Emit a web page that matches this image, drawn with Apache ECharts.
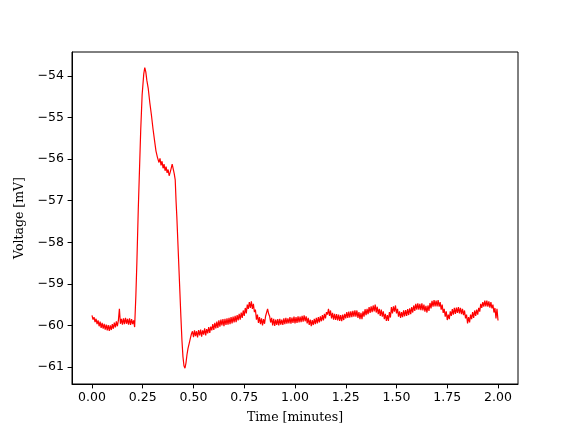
<!DOCTYPE html>
<html>
<head>
<meta charset="utf-8">
<script src="https://cdn.jsdelivr.net/npm/echarts@6/dist/echarts.min.js"></script>
<style>html,body{margin:0;padding:0;background:#fff}#c{width:576px;height:432px}</style>
</head>
<body>
<div id="c"></div>
<script>
// Baseline before the action potential, sampled every 0.005 minute from 0.00 to 0.21
const baseStart = 0.0;
const baseStep = 0.005;
const baseVolt = [-59.76,-59.86,-59.80,-59.92,-59.84,-59.97,-59.88,-60.02,-59.91,-60.06,
  -59.94,-60.08,-59.96,-60.10,-59.98,-60.12,-59.99,-60.13,-60.00,-60.11,
  -59.97,-60.08,-59.93,-60.05,-59.90,-60.02,-59.88,-59.60,-59.96,-59.84,
  -59.98,-59.83,-59.97,-59.82,-59.96,-59.84,-59.98,-59.83,-59.99,-59.85,
  -59.97,-59.88,-60.04];
// Action potential and undershoot
const spikeTime = [0.212,0.216,0.221,0.228,0.240,0.247,0.255,0.260,0.265,0.270,0.277,0.285,0.293,0.300,0.308,0.315,0.322,
  0.33,0.335,0.34,0.345,0.35,0.355,0.36,0.365,0.37,0.375,0.38,0.385,0.39,0.395,0.40,0.405,0.41,
  0.414,0.418,0.423,0.428,0.433,0.438,0.443,0.448,0.453,0.458,0.463,0.468,0.473,0.478,0.485,0.49,0.495];
const spikeVolt = [-60.05,-59.30,-58.50,-57.20,-55.30,-54.45,-53.95,-53.80,-53.90,-54.10,-54.30,-54.65,-54.95,-55.25,-55.55,-55.80,-55.95,
  -56.08,-55.98,-56.15,-56.05,-56.22,-56.12,-56.28,-56.18,-56.33,-56.25,-56.40,-56.32,-56.22,-56.12,-56.15,-56.35,-56.50,
  -57.00,-57.40,-58.00,-58.60,-59.20,-59.80,-60.35,-60.75,-60.97,-61.03,-60.90,-60.70,-60.55,-60.45,-60.30,-60.20,-60.14];
// Recovery and plateau, sampled every 0.005 minute from 0.50 to 2.00
const tailStart = 0.50;
const tailStep = 0.005;
const tailVolt = [
  -60.28,-60.12,-60.26,-60.14,-60.29,-60.11,-60.24,-60.10,-60.27,-60.12,-60.22,-60.07,-60.24,-60.09,-60.19,-60.04,-60.18,-60.03,-60.12,-59.97,
  -60.11,-59.94,-60.07,-59.91,-60.06,-59.88,-60.03,-59.86,-60.00,-59.85,-60.02,-59.84,-59.99,-59.83,-59.98,-59.82,-59.97,-59.80,-59.95,-59.79,
  -59.93,-59.77,-59.92,-59.75,-59.88,-59.72,-59.86,-59.69,-59.82,-59.64,-59.77,-59.58,-59.71,-59.50,-59.60,-59.44,-59.58,-59.42,-59.60,-59.48,
  -59.68,-59.62,-59.86,-59.74,-59.94,-59.80,-59.97,-59.83,-60.00,-59.85,-59.96,-59.78,-59.82,-59.60,-59.72,-59.78,-59.93,-59.82,-60.00,-59.84,
  -60.01,-59.86,-59.99,-59.85,-60.00,-59.84,-59.98,-59.86,-59.99,-59.83,-59.97,-59.82,-59.96,-59.83,-59.95,-59.80,-59.96,-59.81,-59.94,-59.79,
  -59.95,-59.80,-59.94,-59.78,-59.93,-59.79,-59.92,-59.77,-59.91,-59.76,-59.90,-59.78,-59.95,-59.82,-59.99,-59.86,-60.02,-59.87,-59.99,-59.84,
  -59.97,-59.82,-59.95,-59.80,-59.93,-59.78,-59.90,-59.75,-59.88,-59.72,-59.83,-59.68,-59.74,-59.60,-59.77,-59.64,-59.83,-59.70,-59.86,-59.72,
  -59.87,-59.73,-59.88,-59.74,-59.89,-59.75,-59.90,-59.74,-59.87,-59.72,-59.83,-59.68,-59.82,-59.67,-59.81,-59.66,-59.80,-59.65,-59.79,-59.64,
  -59.79,-59.64,-59.82,-59.68,-59.85,-59.70,-59.85,-59.66,-59.79,-59.61,-59.75,-59.60,-59.73,-59.56,-59.70,-59.54,-59.68,-59.52,-59.66,-59.50,
  -59.69,-59.55,-59.73,-59.60,-59.77,-59.62,-59.79,-59.66,-59.85,-59.72,-59.89,-59.75,-59.89,-59.68,-59.81,-59.56,-59.71,-59.54,-59.67,-59.52,
  -59.71,-59.60,-59.79,-59.66,-59.82,-59.68,-59.80,-59.64,-59.78,-59.63,-59.77,-59.61,-59.75,-59.59,-59.73,-59.56,-59.69,-59.52,-59.65,-59.48,
  -59.62,-59.47,-59.62,-59.48,-59.63,-59.47,-59.64,-59.50,-59.67,-59.53,-59.69,-59.52,-59.65,-59.46,-59.59,-59.41,-59.55,-59.39,-59.54,-59.40,
  -59.54,-59.39,-59.55,-59.44,-59.62,-59.50,-59.70,-59.60,-59.79,-59.66,-59.87,-59.74,-59.85,-59.66,-59.77,-59.61,-59.74,-59.58,-59.72,-59.57,
  -59.70,-59.56,-59.71,-59.58,-59.73,-59.60,-59.75,-59.64,-59.83,-59.74,-59.95,-59.80,-59.93,-59.74,-59.85,-59.68,-59.82,-59.64,-59.77,-59.62,
  -59.74,-59.58,-59.67,-59.48,-59.58,-59.44,-59.55,-59.40,-59.54,-59.40,-59.55,-59.42,-59.57,-59.44,-59.59,-59.50,-59.69,-59.58,-59.83,-59.60,
  -59.88];
const xTicks = [0, 0.25, 0.5, 0.75, 1.0, 1.25, 1.5, 1.75, 2.0];
const yTicks = [-61, -60, -59, -58, -57, -56, -55, -54];

const data = [];
for (let i = 0; i < baseVolt.length; i++) data.push([+(baseStart + i * baseStep).toFixed(4), baseVolt[i]]);
for (let i = 0; i < spikeTime.length; i++) data.push([spikeTime[i], spikeVolt[i]]);
for (let i = 0; i < tailVolt.length; i++) data.push([+(tailStart + i * tailStep).toFixed(4), tailVolt[i]]);

const fmtMinus = s => String(s).replace('-', '\u2212');
const chart = echarts.init(document.getElementById('c'), null, {renderer: 'canvas'});
chart.setOption({
  animation: false,
  backgroundColor: '#fff',
  grid: {left: 72, right: 58, top: 52, bottom: 48, show: true, borderColor: '#000', borderWidth: 1, backgroundColor: 'transparent'},
  xAxis: {
    type: 'value', min: -0.0985, max: 2.0985,
    name: 'Time [minutes]', nameLocation: 'middle', nameGap: 27,
    nameTextStyle: {fontFamily: 'DejaVu Serif', fontSize: 12.5, color: '#000'},
    axisLine: {show: true, onZero: false, lineStyle: {color: '#000', width: 1}},
    axisTick: {show: true, length: 4.4, lineStyle: {color: '#000'}, customValues: xTicks},
    axisLabel: {fontFamily: 'DejaVu Sans', fontSize: 12.5, color: '#000', margin: 7, customValues: xTicks,
      formatter: v => fmtMinus(v.toFixed(2))},
    splitLine: {show: false}
  },
  yAxis: {
    type: 'value', min: -61.409, max: -53.423,
    name: 'Voltage [mV]', nameLocation: 'middle', nameGap: 44, nameRotate: 90,
    nameTextStyle: {fontFamily: 'DejaVu Serif', fontSize: 12.5, color: '#000'},
    axisLine: {show: true, onZero: false, lineStyle: {color: '#000', width: 1}},
    axisTick: {show: true, length: 4.4, lineStyle: {color: '#000'}, customValues: yTicks},
    axisLabel: {fontFamily: 'DejaVu Sans', fontSize: 12.5, color: '#000', margin: 8, customValues: yTicks,
      formatter: v => fmtMinus(Math.round(v))},
    splitLine: {show: false}
  },
  series: [{
    type: 'line', data: data, showSymbol: false, symbol: 'none',
    lineStyle: {color: '#ff0000', width: 1.2}, itemStyle: {color: '#ff0000'}
  }]
});
</script>
</body>
</html>
